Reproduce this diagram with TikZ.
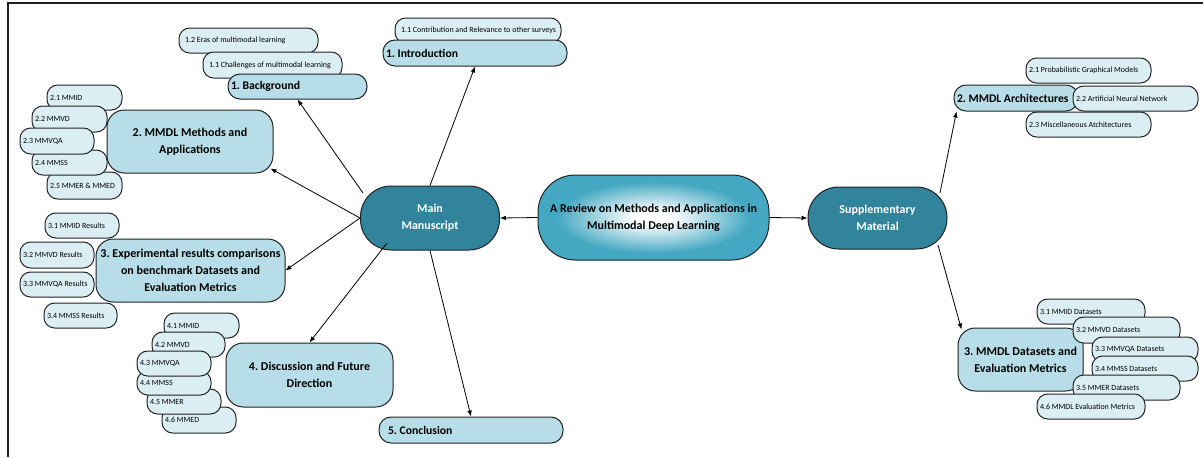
\documentclass[tikz,border=0pt]{standalone}
\usepackage{fontspec}
\setmainfont{Carlito}
\usetikzlibrary{arrows.meta}
\definecolor{lb}{HTML}{B7DEE8}
\definecolor{vlb}{HTML}{DAEEF3}
\definecolor{dteal}{HTML}{31849B}
\definecolor{gteal}{HTML}{45A8C2}
\definecolor{edgec}{HTML}{222222}
\pgfdeclareradialshading{hubshade}{\pgfpoint{0bp}{0bp}}{color(0bp)=(white); color(4bp)=(white); color(21bp)=(gteal); color(50bp)=(gteal)}
\tikzset{
  bx/.style 2 args={minimum width=#1*0.75pt, minimum height=#2*0.75pt},
  lbx/.style 2 args={minimum width=#1*0.75pt, minimum height=#2*0.75pt,
     /utils/exec={\pgfmathsetlengthmacro\mytw{(#1-6)*0.75pt}}, text width=\mytw,
     execute at begin node={\spaceskip=0pt\xspaceskip=0pt\relax}},
  base/.style={draw=edgec, line width=0.75pt, anchor=center, inner ysep=0pt, inner xsep=2.25pt},
  subbox/.style={base, fill=vlb, rounded corners=8pt, align=left, font=\fontsize{5.95}{7}\selectfont},
  barbox/.style={base, fill=lb, rounded corners=9pt, align=left, font=\bfseries\fontsize{8.75}{10}\selectfont},
  bigbox/.style={base, fill=lb, rounded corners=13pt, align=center, font=\bfseries\fontsize{9}{12.75}\selectfont},
  hubbox/.style={base, fill=dteal, text=white, rounded corners=23pt, align=center, font=\bfseries\fontsize{9}{12.75}\selectfont},
  conn/.style={draw=black, line width=0.6pt, -{Latex[length=4.5pt,width=3.5pt]}},
}
\begin{document}
\frenchspacing
\begin{tikzpicture}[x=0.75pt,y=-0.75pt]
\useasboundingbox (0,0) rectangle (1203,457);
\draw[line width=1.5pt, edgec] (8,457) -- (8,3) -- (1203,3);

% hubs
\node[base, shading=hubshade, rounded corners=28pt, align=center, font=\bfseries\fontsize{9}{12.5}\selectfont, bx={231}{85}] (center) at (653.5,217.5) {A Review on Methods and Applications in\\Multimodal Deep Learning};
\node[hubbox, bx={139}{64}] (main) at (430,218) {Main\\Manuscript};
\node[hubbox, bx={139}{62}] (supp) at (877.5,218) {Supplementary\\Material};

% section 1 (introduction)
\node[subbox, lbx={166}{25}] (contrib) at (478,30.5) {\hspace{2.25pt}1.1 Contribution and Relevance to other surveys};
\node[barbox, lbx={184}{26}] (intro) at (475,53) {1. Introduction};

% background
\node[subbox, lbx={139}{25}] (eras) at (248.5,40.5) {\hspace{2.25pt}1.2 Eras of multimodal learning};
\node[subbox, lbx={139}{26}] (chal) at (272.5,65) {\hspace{2.25pt}1.1 Challenges of multimodal learning};
\node[barbox, lbx={139}{25}] (bg) at (297.5,86.5) {1. Background};

% methods
\node[bigbox, bx={166}{63}] (methods) at (190,141.5) {2. MMDL Methods and\\Applications};
\node[subbox, lbx={75}{25}] (m21) at (84.5,97.5) {2.1 MMID};
\node[subbox, lbx={75}{27}] (m25) at (84.5,185.5) {2.5 MMER \& MMED};
\node[subbox, lbx={75}{26}] (m22) at (69.5,119) {2.2 MMVD};
\node[subbox, lbx={75}{25}] (m24) at (69.5,162.5) {2.4 MMSS};
\node[subbox, lbx={74}{26}] (m23) at (57,141) {2.3 MMVQA};

% experimental results
\node[bigbox, bx={189}{63}] (exp) at (190.5,270.5) {3. Experimental results comparisons\\on benchmark Datasets and\\Evaluation Metrics};
\node[subbox, lbx={74}{25}] (r31) at (82,225.5) {3.1 MMID Results};
\node[subbox, lbx={74}{26}] (r32) at (57,255) {3.2 MMVD Results};
\node[subbox, lbx={74}{25}] (r33) at (57,284.5) {3.3 MMVQA Results};
\node[subbox, lbx={73}{25}] (r34) at (80.5,315.5) {3.4 MMSS Results};

% discussion
\node[bigbox, bx={167}{64}] (disc) at (309.5,375) {4. Discussion and Future\\Direction};
\node[subbox, lbx={75}{25}] (d41) at (201.5,325.5) {4.1 MMID};
\node[subbox, lbx={73}{25}] (d42) at (188.5,344.5) {4.2 MMVD};
\node[subbox, lbx={74}{26}] (d46) at (199,420) {4.6 MMED};
\node[subbox, lbx={74}{25}] (d45) at (184,401.5) {4.5 MMER};
\node[subbox, lbx={74}{24}] (d44) at (174,383) {4.4 MMSS};
\node[subbox, lbx={74}{25}] (d43) at (174,363.5) {4.3 MMVQA};

% conclusion
\node[barbox, lbx={184}{26}] (concl) at (471,430) {\hspace{4.5pt}5. Conclusion};

% architectures
\node[barbox, lbx={124}{26}] (arch) at (1016,98) {2. MMDL Architectures};
\node[subbox, lbx={125}{25}] (a21) at (1088.5,70.5) {2.1 Probabilistic Graphical Models};
\node[subbox, lbx={125}{25}] (a22) at (1135.5,98.5) {2.2 Artificial Neural Network};
\node[subbox, lbx={125}{25}] (a23) at (1088.5,124.5) {2.3 Miscellaneous Atchitectures};

% datasets
\node[bigbox, bx={125}{63}] (dsets) at (1020.5,359.5) {3. MMDL Datasets and\\Evaluation Metrics};
\node[subbox, lbx={108}{25}] (s31) at (1091,311.5) {3.1 MMID Datasets};
\node[subbox, lbx={107}{26}] (s32) at (1126.5,330) {3.2 MMVD Datasets};
\node[subbox, lbx={106}{25}] (s33) at (1145,349.5) {3.3 MMVQA Datasets};
\node[subbox, lbx={106}{25}] (s34) at (1145,368.5) {3.4 MMSS Datasets};
\node[subbox, lbx={107}{25}] (s35) at (1126.5,387.5) {3.5 MMER Datasets};
\node[subbox, lbx={108}{25}] (s46) at (1091,406.5) {4.6 MMDL Evaluation Metrics};

% connectors
\draw[conn] (center.west) -- (main.east);
\draw[conn] (center.east) -- (supp.west);
\draw[conn] (main.north) -- (intro.south);
\draw[conn] ([shift={(-67,-25)}]main.center) -- (bg.south);
\draw[conn] (main.west) -- ([shift={(-3,-5)}]methods.south east);
\draw[conn] (main.west) -- (exp.east);
\draw[conn] ([shift={(-43,25)}]main.center) -- (disc.north);
\draw[conn] (main.south) -- (concl.north);
\draw[conn] ([shift={(62.5,-25)}]supp.center) -- ([shift={(3,0)}]arch.south west);
\draw[conn] ([shift={(60.5,27)}]supp.center) -- ([shift={(4,2)}]dsets.north west);
\end{tikzpicture}
\end{document}
